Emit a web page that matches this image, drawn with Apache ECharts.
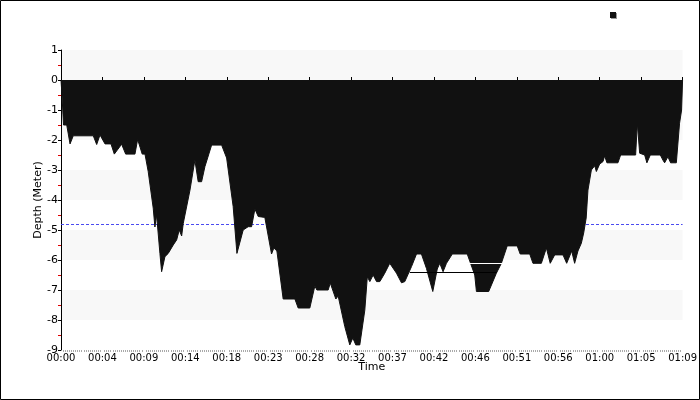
<!DOCTYPE html>
<html><head><meta charset="utf-8">
<script src="https://cdn.jsdelivr.net/npm/echarts@6/dist/echarts.min.js"></script>
<style>html,body{margin:0;padding:0;background:#fff}#c{width:700px;height:400px}</style>
</head><body><div id="c"></div>
<script>
// Time in minutes, depth in meters
var times = [0,0.11,0.28,0.64,1.01,1.37,3.61,3.99,4.36,4.92,5.59,5.96,6.78,7.23,8.27,8.57,9.08,9.39,9.75,10.31,10.50,10.69,11.06,11.25,11.62,11.99,12.55,12.93,13.22,13.49,13.67,14.42,14.97,15.34,15.72,16.09,16.84,17.96,18.52,19.25,19.67,20.37,20.93,21.31,21.68,22.05,22.79,23.54,23.80,24.14,24.84,26.15,26.52,27.82,28.38,28.61,29.87,30.11,30.73,30.99,31.73,32.29,32.63,32.96,33.41,33.97,34.25,34.53,34.90,35.28,35.65,36.20,36.76,37.51,38.07,38.44,39.19,39.75,40.30,40.86,41.57,42.07,42.35,42.72,43.10,43.75,45.42,46.26,46.45,47.82,48.68,49.24,49.89,51.01,51.34,52.41,52.77,53.71,54.27,54.70,55.20,56.13,56.54,57.10,57.43,57.80,58.18,58.44,58.72,58.92,59.30,59.67,59.86,60.23,60.60,60.79,61.04,62.27,62.57,64.25,64.44,64.70,65.26,65.51,65.89,67.01,67.30,67.49,67.86,68.16,68.80,69.16,69.39,69.50];
var depths = [0,-0.5,-1.5,-1.5,-2.13,-1.86,-1.86,-2.15,-1.83,-2.13,-2.13,-2.47,-2.14,-2.47,-2.47,-1.98,-2.47,-2.47,-3.05,-4.27,-4.9,-4.5,-5.78,-6.39,-5.89,-5.78,-5.5,-5.33,-5.0,-5.2,-4.78,-3.67,-2.67,-3.39,-3.39,-2.89,-2.17,-2.17,-2.6,-4.22,-5.78,-5.0,-4.89,-4.89,-4.3,-4.55,-4.58,-5.8,-5.6,-5.7,-7.3,-7.3,-7.6,-7.6,-6.87,-7.0,-7.0,-6.77,-7.3,-7.2,-8.22,-8.83,-8.6,-8.83,-8.83,-7.67,-6.56,-6.72,-6.5,-6.72,-6.72,-6.44,-6.11,-6.44,-6.76,-6.72,-6.22,-5.8,-5.8,-6.28,-7.05,-6.3,-6.11,-6.39,-6.11,-5.8,-5.8,-6.5,-7.05,-7.05,-6.44,-6.11,-5.53,-5.53,-5.8,-5.8,-6.11,-6.11,-5.6,-6.11,-5.83,-5.83,-6.11,-5.7,-6.11,-5.7,-5.44,-5.1,-4.6,-3.67,-3.0,-2.86,-3.05,-2.8,-2.72,-2.53,-2.76,-2.76,-2.5,-2.5,-1.44,-2.44,-2.5,-2.76,-2.5,-2.5,-2.67,-2.76,-2.56,-2.76,-2.76,-1.44,-1.0,0];
var refDepth = -4.817;
var blackSegTimes = [39.0, 48.72], blackSegDepth = -6.417;
var whiteSegTimes = [45.0, 52.41], whiteSegDepth = -6.117;
var tickLabels = ['00:00','00:04','00:09','00:14','00:18','00:23','00:28','00:32','00:37','00:42','00:46','00:51','00:56','01:00','01:05','01:09'];
var totalTime = 69.5;

var step = totalTime / (tickLabels.length - 1);
var profile = times.map(function (t, i) { return [t, depths[i]]; });
var font = 'DejaVu Sans';
var chart = echarts.init(document.getElementById('c'));
chart.setOption({
  animation: false,
  backgroundColor: '#fff',
  textStyle: { fontFamily: font },
  graphic: [{ type: 'rect', shape: { x: 0.5, y: 0.5, width: 699, height: 399 }, style: { fill: 'none', stroke: '#000', lineWidth: 1 }, z: 100 }],
  legend: { data: [' '], left: 605, top: 7, icon: 'rect', itemWidth: 6, itemHeight: 6, itemGap: 0,
    itemStyle: { shadowColor: '#999', shadowOffsetX: 1, shadowOffsetY: 1, shadowBlur: 0 },
    textStyle: { fontSize: 1 } },
  grid: { left: 61, right: 17, top: 50, bottom: 50, containLabel: false },
  xAxis: [{
    type: 'value', position: 'bottom', min: 0, max: step * (tickLabels.length - 1), interval: step,
    name: 'Time', nameLocation: 'middle', nameGap: 12, nameMoveOverlap: false,
    nameTextStyle: { color: '#000', fontSize: 11, fontFamily: font },
    axisLine: { show: true, lineStyle: { color: '#000', width: 1 } },
    axisTick: { show: true, inside: true, length: 3, lineStyle: { color: '#000' } },
    axisLabel: { color: '#000', fontSize: 10, fontFamily: font, margin: 3, showMaxLabel: true, showMinLabel: true,
      formatter: function (v) { return tickLabels[Math.round(v / step)] || ''; } },
    splitLine: { show: false }
  }, {
    type: 'value', position: 'bottom', min: 0, max: step * (tickLabels.length - 1), interval: step,
    axisLine: { show: false }, axisLabel: { show: false }, axisTick: { show: false },
    minorTick: { show: true, splitNumber: 20, length: 2, lineStyle: { color: '#aaa' } },
    splitLine: { show: false }
  }],
  yAxis: {
    type: 'value', min: -9, max: 1, interval: 1,
    name: 'Depth (Meter)', nameLocation: 'middle', nameGap: 17, nameMoveOverlap: false,
    nameTextStyle: { color: '#000', fontSize: 11, fontFamily: font },
    axisLine: { show: true, lineStyle: { color: '#000', width: 1 } },
    axisTick: { show: true, length: 3, lineStyle: { color: '#000' } },
    minorTick: { show: true, splitNumber: 2, length: 3, lineStyle: { color: '#e00000' } },
    axisLabel: { color: '#000', fontSize: 11, fontFamily: font, margin: 3 },
    splitLine: { show: false },
    splitArea: { show: true, areaStyle: { color: ['#ffffff', '#f8f8f8'] } }
  },
  series: [{
    name: 'ref', type: 'line', z: 1, silent: true, symbol: 'none',
    data: [[0, refDepth], [totalTime, refDepth]],
    lineStyle: { color: '#4a4af0', width: 1, type: [3, 2] }
  }, {
    name: ' ', type: 'line', z: 2, silent: true, symbol: 'none',
    data: profile,
    lineStyle: { color: '#111', width: 1 },
    itemStyle: { color: '#111' },
    areaStyle: { color: '#111', opacity: 1 }
  }, {
    name: 'seg1', type: 'line', z: 3, silent: true, symbol: 'none',
    data: [[blackSegTimes[0], blackSegDepth], [blackSegTimes[1], blackSegDepth]],
    lineStyle: { color: '#000', width: 1 }
  }, {
    name: 'seg2', type: 'line', z: 3, silent: true, symbol: 'none',
    data: [[whiteSegTimes[0], whiteSegDepth], [whiteSegTimes[1], whiteSegDepth]],
    lineStyle: { color: '#fff', width: 1 }
  }]
});
</script></body></html>
